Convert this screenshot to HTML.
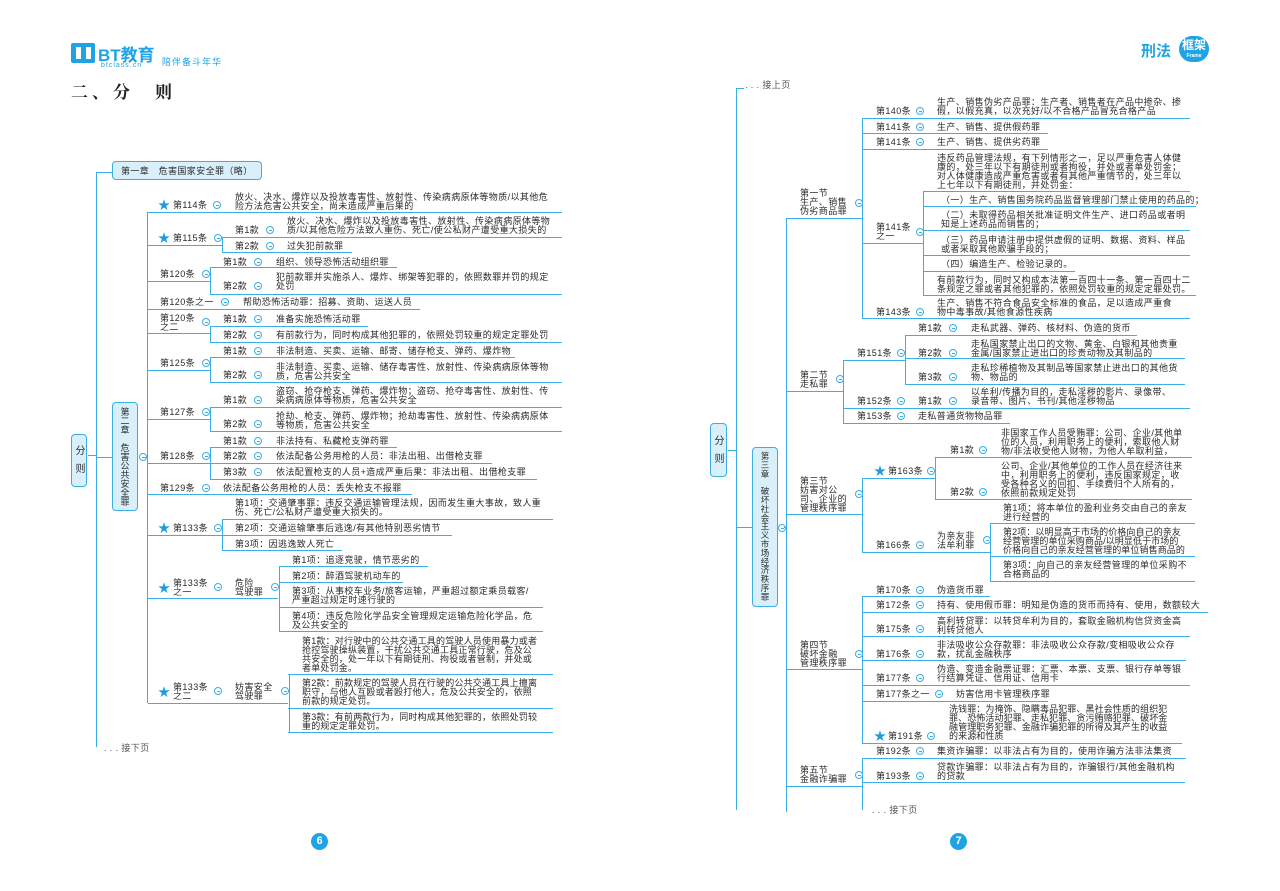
<!DOCTYPE html>
<html><head><meta charset="utf-8">
<style>
body{margin:0;width:1280px;height:891px;background:#fff;position:relative;overflow:hidden;font-family:"Liberation Sans","Noto Sans CJK SC",sans-serif;}
.t{position:absolute;font-size:9px;line-height:9px;color:#2a2a2a;white-space:nowrap;letter-spacing:0.4px;}
.u{position:absolute;height:0;border-top:1.4px solid #3aaee6;}
.v{position:absolute;width:0;border-left:1.4px solid #3aaee6;}
.c{position:absolute;width:6px;height:6px;border:1px solid #3aaee6;border-radius:50%;background:#fff;}
.c:after{content:"";position:absolute;left:1.5px;top:2.5px;width:3px;height:1px;background:#3aaee6;}
.s{position:absolute;color:#1f9be0;font-size:12px;line-height:12px;}
.box{position:absolute;background:#d9f0fb;border:1.3px solid #3aaee6;border-radius:4px;color:#2a2a2a;font-size:9px;}
.vt{writing-mode:vertical-rl;text-orientation:upright;letter-spacing:0px;line-height:26px;text-align:center;white-space:nowrap;}
.st{text-align:center;box-sizing:border-box;}
.pg{position:absolute;width:17px;height:17px;border-radius:50%;background:#1fa3e4;color:#fff;font-weight:bold;font-size:11px;line-height:17px;text-align:center;}
</style></head><body>

<!-- header left -->
<div style="position:absolute;left:71px;top:43px;width:24px;height:20px;background:#1fa3e4;border-radius:2px"></div>
<div style="position:absolute;left:76px;top:47px;width:5px;height:12px;background:#fff"></div>
<div style="position:absolute;left:86px;top:47px;width:5px;height:12px;background:#fff"></div>
<div style="position:absolute;left:98px;top:41px;font-size:17px;font-weight:bold;color:#1fa3e4;font-family:'Liberation Sans','Noto Sans CJK SC',sans-serif">BT教育</div>
<div style="position:absolute;left:101px;top:62px;font-size:7px;color:#1fa3e4;letter-spacing:1px">btclass.cn</div>
<div style="position:absolute;left:162px;top:55px;font-size:9px;color:#1fa3e4;letter-spacing:1px">陪伴备斗年华</div>
<div style="position:absolute;left:71px;top:78px;font-size:17px;font-weight:bold;color:#222;letter-spacing:4px;font-family:'Liberation Serif','Noto Serif CJK SC',serif">二、分　则</div>

<!-- header right -->
<div style="position:absolute;left:1141px;top:40px;font-size:15px;font-weight:bold;color:#1fa3e4">刑法</div>
<div style="position:absolute;left:1179px;top:36px;width:30px;height:26px;border-radius:13px;background:#1fa3e4;color:#fff;font-size:12px;font-weight:bold;text-align:center;line-height:18px">框架<div style="font-size:5px;line-height:5px">Frame</div></div>

<!-- ============ LEFT PAGE ============ -->
<div class="t" style="left:104px;top:744px;color:#555">. . .  接下页</div>
<div class="v" style="left:96px;top:172px;height:575px;border-radius:0"></div>
<div class="u" style="left:96px;top:172px;width:16px"></div>
<div class="u" style="left:88px;top:455px;width:8px"></div>
<div class="box vt" style="left:71px;top:434px;width:16px;height:53px;font-size:10px;line-height:16px;letter-spacing:8px;padding-top:4px;box-sizing:border-box">分则</div>
<div class="box" style="left:112px;top:161px;width:150px;height:19px;line-height:19px;padding-left:8px;box-sizing:border-box;letter-spacing:0.4px">第一章　危害国家安全罪（略）</div>
<div class="u" style="left:96px;top:457px;width:16px"></div>
<div class="box st" style="left:112px;top:402px;width:26px;height:109px;line-height:9px;font-size:9px;padding-top:5px">第<br>二<br>章<br>&nbsp;<br>危<br>害<br>公<br>共<br>安<br>全<br>罪</div>
<div class="c" style="left:139px;top:453px"></div>

<div class="v" style="left:147px;top:212px;height:491px"></div>
<div class="u" style="left:145px;top:457px;width:3px"></div>

<!-- 114 -->
<div class="s" style="left:158px;top:199px">★</div>
<div class="t" style="left:173px;top:201px">第114条</div><div class="c" style="left:213px;top:201px"></div>
<div class="t" style="left:235px;top:193px">放火、决水、爆炸以及投放毒害性、放射性、传染病病原体等物质/以其他危<br>险方法危害公共安全，尚未造成严重后果的</div>
<div class="u" style="left:148px;top:212px;width:414px"></div>
<!-- 115 -->
<div class="s" style="left:158px;top:232px">★</div>
<div class="t" style="left:173px;top:234px">第115条</div><div class="c" style="left:214px;top:234px"></div>
<div class="u" style="left:148px;top:245px;width:74px"></div>
<div class="v" style="left:222px;top:237px;height:15px"></div>
<div class="t" style="left:235px;top:226px">第1款</div><div class="c" style="left:266px;top:226px"></div>
<div class="t" style="left:287px;top:217px">放火、决水、爆炸以及投放毒害性、放射性、传染病病原体等物<br>质/以其他危险方法致人重伤、死亡/使公私财产遭受重大损失的</div>
<div class="u" style="left:222px;top:237px;width:340px"></div>
<div class="t" style="left:235px;top:242px">第2款</div><div class="c" style="left:266px;top:242px"></div>
<div class="t" style="left:287px;top:242px">过失犯前款罪</div>
<div class="u" style="left:222px;top:252px;width:130px"></div>
<!-- 120 -->
<div class="t" style="left:160px;top:270px">第120条</div><div class="c" style="left:202px;top:270px"></div>
<div class="u" style="left:148px;top:281px;width:62px"></div>
<div class="v" style="left:210px;top:267px;height:27px"></div>
<div class="t" style="left:223px;top:258px">第1款</div><div class="c" style="left:254px;top:258px"></div>
<div class="t" style="left:276px;top:258px">组织、领导恐怖活动组织罪</div>
<div class="u" style="left:210px;top:267px;width:187px"></div>
<div class="t" style="left:223px;top:282px">第2款</div><div class="c" style="left:254px;top:282px"></div>
<div class="t" style="left:276px;top:273px">犯前款罪并实施杀人、爆炸、绑架等犯罪的，依照数罪并罚的规定<br>处罚</div>
<div class="u" style="left:210px;top:294px;width:352px"></div>
<!-- 120-1 -->
<div class="t" style="left:160px;top:298px">第120条之一</div><div class="c" style="left:221px;top:298px"></div>
<div class="t" style="left:243px;top:298px">帮助恐怖活动罪：招募、资助、运送人员</div>
<div class="u" style="left:148px;top:309px;width:272px"></div>
<!-- 120-2 -->
<div class="t" style="left:160px;top:314px">第120条<br>之二</div><div class="c" style="left:202px;top:318px"></div>
<div class="u" style="left:148px;top:333px;width:62px"></div>
<div class="v" style="left:210px;top:326px;height:16px"></div>
<div class="t" style="left:223px;top:315px">第1款</div><div class="c" style="left:254px;top:315px"></div>
<div class="t" style="left:276px;top:315px">准备实施恐怖活动罪</div>
<div class="u" style="left:210px;top:326px;width:158px"></div>
<div class="t" style="left:223px;top:331px">第2款</div><div class="c" style="left:254px;top:331px"></div>
<div class="t" style="left:276px;top:331px">有前款行为，同时构成其他犯罪的，依照处罚较重的规定定罪处罚</div>
<div class="u" style="left:210px;top:342px;width:352px"></div>
<!-- 125 -->
<div class="t" style="left:160px;top:359px">第125条</div><div class="c" style="left:202px;top:359px"></div>
<div class="u" style="left:148px;top:370px;width:62px"></div>
<div class="v" style="left:210px;top:357px;height:25px"></div>
<div class="t" style="left:223px;top:347px">第1款</div><div class="c" style="left:254px;top:347px"></div>
<div class="t" style="left:276px;top:347px">非法制造、买卖、运输、邮寄、储存枪支、弹药、爆炸物</div>
<div class="u" style="left:210px;top:357px;width:305px"></div>
<div class="t" style="left:223px;top:371px">第2款</div><div class="c" style="left:254px;top:371px"></div>
<div class="t" style="left:276px;top:363px">非法制造、买卖、运输、储存毒害性、放射性、传染病病原体等物<br>质，危害公共安全</div>
<div class="u" style="left:210px;top:382px;width:352px"></div>
<!-- 127 -->
<div class="t" style="left:160px;top:408px">第127条</div><div class="c" style="left:202px;top:408px"></div>
<div class="u" style="left:148px;top:419px;width:62px"></div>
<div class="v" style="left:210px;top:407px;height:24px"></div>
<div class="t" style="left:223px;top:396px">第1款</div><div class="c" style="left:254px;top:396px"></div>
<div class="t" style="left:276px;top:387px">盗窃、抢夺枪支、弹药、爆炸物；盗窃、抢夺毒害性、放射性、传<br>染病病原体等物质，危害公共安全</div>
<div class="u" style="left:210px;top:407px;width:352px"></div>
<div class="t" style="left:223px;top:420px">第2款</div><div class="c" style="left:254px;top:420px"></div>
<div class="t" style="left:276px;top:412px">抢劫、枪支、弹药、爆炸物；抢劫毒害性、放射性、传染病病原体<br>等物质，危害公共安全</div>
<div class="u" style="left:210px;top:431px;width:352px"></div>
<!-- 128 -->
<div class="t" style="left:160px;top:452px">第128条</div><div class="c" style="left:202px;top:452px"></div>
<div class="u" style="left:148px;top:463px;width:62px"></div>
<div class="v" style="left:210px;top:447px;height:32px"></div>
<div class="t" style="left:223px;top:437px">第1款</div><div class="c" style="left:254px;top:437px"></div>
<div class="t" style="left:276px;top:437px">非法持有、私藏枪支弹药罪</div>
<div class="u" style="left:210px;top:447px;width:187px"></div>
<div class="t" style="left:223px;top:452px">第2款</div><div class="c" style="left:254px;top:452px"></div>
<div class="t" style="left:276px;top:452px">依法配备公务用枪的人员：非法出租、出借枪支罪</div>
<div class="u" style="left:210px;top:463px;width:282px"></div>
<div class="t" style="left:223px;top:468px">第3款</div><div class="c" style="left:254px;top:468px"></div>
<div class="t" style="left:276px;top:468px">依法配置枪支的人员+造成严重后果：非法出租、出借枪支罪</div>
<div class="u" style="left:210px;top:479px;width:327px"></div>
<!-- 129 -->
<div class="t" style="left:160px;top:484px">第129条</div><div class="c" style="left:202px;top:484px"></div>
<div class="t" style="left:223px;top:484px">依法配备公务用枪的人员：丢失枪支不报罪</div>
<div class="u" style="left:148px;top:494px;width:264px"></div>
<!-- 133 -->
<div class="s" style="left:158px;top:522px">★</div>
<div class="t" style="left:173px;top:524px">第133条</div><div class="c" style="left:214px;top:524px"></div>
<div class="u" style="left:148px;top:535px;width:74px"></div>
<div class="v" style="left:222px;top:519px;height:31px"></div>
<div class="t" style="left:235px;top:499px">第1项：交通肇事罪：违反交通运输管理法规，因而发生重大事故，致人重<br>伤、死亡/公私财产遭受重大损失的。</div>
<div class="u" style="left:222px;top:519px;width:331px"></div>
<div class="t" style="left:235px;top:524px">第2项：交通运输肇事后逃逸/有其他特别恶劣情节</div>
<div class="u" style="left:222px;top:535px;width:230px"></div>
<div class="t" style="left:235px;top:540px">第3项：因逃逸致人死亡</div>
<div class="u" style="left:222px;top:550px;width:120px"></div>
<!-- 133-1 -->
<div class="s" style="left:158px;top:582px">★</div>
<div class="t" style="left:173px;top:579px">第133条<br>之一</div><div class="c" style="left:214px;top:583px"></div>
<div class="t" style="left:235px;top:579px">危险<br>驾驶罪</div><div class="c" style="left:271px;top:583px"></div>
<div class="u" style="left:148px;top:598px;width:130px"></div>
<div class="v" style="left:279px;top:566px;height:65px"></div>
<div class="t" style="left:292px;top:556px">第1项：追逐竞驶，情节恶劣的</div>
<div class="u" style="left:279px;top:566px;width:149px"></div>
<div class="t" style="left:292px;top:572px">第2项：醉酒驾驶机动车的</div>
<div class="u" style="left:279px;top:582px;width:124px"></div>
<div class="t" style="left:292px;top:587px">第3项：从事校车业务/旅客运输，严重超过额定乘员载客/<br>严重超过规定时速行驶的</div>
<div class="u" style="left:279px;top:607px;width:264px"></div>
<div class="t" style="left:292px;top:612px">第4项：违反危险化学品安全管理规定运输危险化学品，危<br>及公共安全的</div>
<div class="u" style="left:279px;top:631px;width:264px"></div>
<!-- 133-2 -->
<div class="s" style="left:158px;top:686px">★</div>
<div class="t" style="left:173px;top:683px">第133条<br>之二</div><div class="c" style="left:214px;top:687px"></div>
<div class="t" style="left:235px;top:683px">妨害安全<br>驾驶罪</div><div class="c" style="left:281px;top:687px"></div>
<div class="u" style="left:148px;top:703px;width:140px"></div>
<div class="v" style="left:289px;top:674px;height:58px"></div>
<div class="t" style="left:302px;top:637px;letter-spacing:0.2px">第1款：对行驶中的公共交通工具的驾驶人员使用暴力或者<br>抢控驾驶操纵装置，干扰公共交通工具正常行驶，危及公<br>共安全的，处一年以下有期徒刑、拘役或者管制，并处或<br>者单处罚金。</div>
<div class="u" style="left:288px;top:674px;width:265px"></div>
<div class="t" style="left:302px;top:679px;letter-spacing:0.2px">第2款：前款规定的驾驶人员在行驶的公共交通工具上擅离<br>职守，与他人互殴或者殴打他人，危及公共安全的，依照<br>前款的规定处罚。</div>
<div class="u" style="left:288px;top:708px;width:265px"></div>
<div class="t" style="left:302px;top:713px;letter-spacing:0.2px">第3款：有前两款行为，同时构成其他犯罪的，依照处罚较<br>重的规定定罪处罚。</div>
<div class="u" style="left:288px;top:732px;width:265px"></div>

<div class="pg" style="left:311px;top:833px">6</div>

<!-- ============ RIGHT PAGE ============ -->
<div class="t" style="left:745px;top:81px;color:#555">. . .  接上页</div>
<div class="v" style="left:736px;top:88px;height:722px"></div>
<div class="u" style="left:736px;top:88px;width:8px"></div>
<div class="box vt" style="left:710px;top:423px;width:17px;height:54px;font-size:10px;line-height:17px;letter-spacing:8px;padding-top:5px;box-sizing:border-box">分则</div>
<div class="u" style="left:728px;top:450px;width:8px"></div>
<div class="u" style="left:736px;top:527px;width:16px"></div>
<div class="box st" style="left:752px;top:447px;width:26px;height:160px;line-height:8.8px;font-size:8.5px;padding-top:4px">第<br>三<br>章<br>&nbsp;<br>破<br>坏<br>社<br>会<br>主<br>义<br>市<br>场<br>经<br>济<br>秩<br>序<br>罪</div>
<div class="c" style="left:778px;top:524px"></div>
<div class="v" style="left:786px;top:218px;height:594px"></div>
<div class="u" style="left:784px;top:527px;width:3px"></div>

<!-- section 1 -->
<div class="t" style="left:800px;top:189px">第一节<br>生产、销售<br>伪劣商品罪</div><div class="c" style="left:855px;top:199px"></div>
<div class="u" style="left:786px;top:218px;width:76px"></div>
<div class="v" style="left:862px;top:118px;height:200px"></div>
<div class="t" style="left:876px;top:107px">第140条</div><div class="c" style="left:916px;top:107px"></div>
<div class="t" style="left:937px;top:98px">生产、销售伪劣产品罪：生产者、销售者在产品中掺杂、掺<br>假，以假充真，以次充好/以不合格产品冒充合格产品</div>
<div class="u" style="left:862px;top:118px;width:328px"></div>
<div class="t" style="left:876px;top:123px">第141条</div><div class="c" style="left:916px;top:123px"></div>
<div class="t" style="left:937px;top:123px">生产、销售、提供假药罪</div>
<div class="u" style="left:862px;top:133px;width:186px"></div>
<div class="t" style="left:876px;top:138px">第141条</div><div class="c" style="left:916px;top:138px"></div>
<div class="t" style="left:937px;top:138px">生产、销售、提供劣药罪</div>
<div class="u" style="left:862px;top:149px;width:186px"></div>
<div class="t" style="left:876px;top:223px">第141条<br>之一</div><div class="c" style="left:916px;top:228px"></div>
<div class="u" style="left:862px;top:243px;width:61px"></div>
<div class="v" style="left:923px;top:191px;height:104px"></div>
<div class="t" style="left:937px;top:154px">违反药品管理法规，有下列情形之一，足以严重危害人体健<br>康的，处三年以下有期徒刑或者拘役，并处或者单处罚金；<br>对人体健康造成严重危害或者有其他严重情节的，处三年以<br>上七年以下有期徒刑，并处罚金：</div>
<div class="u" style="left:923px;top:191px;width:267px"></div>
<div class="t" style="left:941px;top:196px">（一）生产、销售国务院药品监督管理部门禁止使用的药品的；</div>
<div class="u" style="left:923px;top:206px;width:273px"></div>
<div class="t" style="left:941px;top:211px">（二）未取得药品相关批准证明文件生产、进口药品或者明<br>知是上述药品而销售的；</div>
<div class="u" style="left:923px;top:230px;width:267px"></div>
<div class="t" style="left:941px;top:236px">（三）药品申请注册中提供虚假的证明、数据、资料、样品<br>或者采取其他欺骗手段的；</div>
<div class="u" style="left:923px;top:255px;width:267px"></div>
<div class="t" style="left:941px;top:260px">（四）编造生产、检验记录的。</div>
<div class="u" style="left:923px;top:271px;width:152px"></div>
<div class="t" style="left:937px;top:276px">有前款行为，同时又构成本法第一百四十一条、第一百四十二<br>条规定之罪或者其他犯罪的，依照处罚较重的规定定罪处罚。</div>
<div class="u" style="left:923px;top:295px;width:273px"></div>
<div class="t" style="left:876px;top:308px">第143条</div><div class="c" style="left:916px;top:308px"></div>
<div class="t" style="left:937px;top:299px">生产、销售不符合食品安全标准的食品，足以造成严重食<br>物中毒事故/其他食源性疾病</div>
<div class="u" style="left:862px;top:318px;width:328px"></div>

<!-- section 2 -->
<div class="t" style="left:800px;top:371px">第二节<br>走私罪</div><div class="c" style="left:836px;top:375px"></div>
<div class="u" style="left:786px;top:391px;width:57px"></div>
<div class="v" style="left:843px;top:360px;height:63px"></div>
<div class="t" style="left:857px;top:349px">第151条</div><div class="c" style="left:897px;top:349px"></div>
<div class="u" style="left:843px;top:360px;width:62px"></div>
<div class="v" style="left:905px;top:335px;height:49px"></div>
<div class="t" style="left:918px;top:324px">第1款</div><div class="c" style="left:949px;top:324px"></div>
<div class="t" style="left:971px;top:324px">走私武器、弹药、核材料、伪造的货币</div>
<div class="u" style="left:905px;top:335px;width:232px"></div>
<div class="t" style="left:918px;top:349px">第2款</div><div class="c" style="left:949px;top:349px"></div>
<div class="t" style="left:971px;top:340px">走私国家禁止出口的文物、黄金、白银和其他贵重<br>金属/国家禁止进出口的珍贵动物及其制品的</div>
<div class="u" style="left:905px;top:358px;width:280px"></div>
<div class="t" style="left:918px;top:373px">第3款</div><div class="c" style="left:949px;top:373px"></div>
<div class="t" style="left:971px;top:364px">走私珍稀植物及其制品等国家禁止进出口的其他货<br>物、物品的</div>
<div class="u" style="left:905px;top:384px;width:280px"></div>
<div class="t" style="left:857px;top:397px">第152条</div><div class="c" style="left:897px;top:397px"></div>
<div class="t" style="left:918px;top:397px">第1款</div><div class="c" style="left:949px;top:397px"></div>
<div class="t" style="left:971px;top:388px">以牟利/传播为目的，走私淫秽的影片、录像带、<br>录音带、图片、书刊/其他淫秽物品</div>
<div class="u" style="left:843px;top:408px;width:347px"></div>
<div class="t" style="left:857px;top:412px">第153条</div><div class="c" style="left:897px;top:412px"></div>
<div class="t" style="left:918px;top:412px">走私普通货物物品罪</div>
<div class="u" style="left:843px;top:423px;width:167px"></div>

<!-- section 3 -->
<div class="t" style="left:800px;top:477px">第三节<br>妨害对公<br>司、企业的<br>管理秩序罪</div><div class="c" style="left:855px;top:490px"></div>
<div class="u" style="left:786px;top:514px;width:76px"></div>
<div class="v" style="left:862px;top:478px;height:74px"></div>
<div class="s" style="left:874px;top:465px">★</div>
<div class="t" style="left:888px;top:467px">第163条</div><div class="c" style="left:927px;top:467px"></div>
<div class="u" style="left:862px;top:478px;width:73px"></div>
<div class="v" style="left:935px;top:457px;height:42px"></div>
<div class="t" style="left:950px;top:446px">第1款</div><div class="c" style="left:979px;top:446px"></div>
<div class="t" style="left:1001px;top:429px">非国家工作人员受贿罪：公司、企业/其他单<br>位的人员，利用职务上的便利，索取他人财<br>物/非法收受他人财物，为他人牟取利益，</div>
<div class="u" style="left:935px;top:457px;width:257px"></div>
<div class="t" style="left:950px;top:488px">第2款</div><div class="c" style="left:979px;top:488px"></div>
<div class="t" style="left:1001px;top:462px">公司、企业/其他单位的工作人员在经济往来<br>中，利用职务上的便利，违反国家规定，收<br>受各种名义的回扣、手续费归个人所有的，<br>依照前款规定处罚</div>
<div class="u" style="left:935px;top:499px;width:257px"></div>
<div class="t" style="left:876px;top:541px">第166条</div><div class="c" style="left:916px;top:541px"></div>
<div class="t" style="left:937px;top:532px">为亲友非<br>法牟利罪</div><div class="c" style="left:983px;top:536px"></div>
<div class="u" style="left:862px;top:552px;width:128px"></div>
<div class="v" style="left:990px;top:523px;height:58px"></div>
<div class="t" style="left:1003px;top:504px">第1项：将本单位的盈利业务交由自己的亲友<br>进行经营的</div>
<div class="u" style="left:990px;top:523px;width:205px"></div>
<div class="t" style="left:1003px;top:528px;letter-spacing:0.1px">第2项：以明显高于市场的价格向自己的亲友<br>经营管理的单位采购商品/以明显低于市场的<br>价格向自己的亲友经营管理的单位销售商品的</div>
<div class="u" style="left:990px;top:556px;width:205px"></div>
<div class="t" style="left:1003px;top:561px">第3项：向自己的亲友经营管理的单位采购不<br>合格商品的</div>
<div class="u" style="left:990px;top:581px;width:205px"></div>

<!-- section 4 -->
<div class="t" style="left:800px;top:641px">第四节<br>破坏金融<br>管理秩序罪</div><div class="c" style="left:855px;top:650px"></div>
<div class="u" style="left:786px;top:669px;width:76px"></div>
<div class="v" style="left:862px;top:596px;height:147px"></div>
<div class="t" style="left:876px;top:586px">第170条</div><div class="c" style="left:916px;top:586px"></div>
<div class="t" style="left:937px;top:586px">伪造货币罪</div>
<div class="u" style="left:862px;top:596px;width:128px"></div>
<div class="t" style="left:876px;top:601px">第172条</div><div class="c" style="left:916px;top:601px"></div>
<div class="t" style="left:937px;top:601px">持有、使用假币罪：明知是伪造的货币而持有、使用，数额较大</div>
<div class="u" style="left:862px;top:612px;width:346px"></div>
<div class="t" style="left:876px;top:625px">第175条</div><div class="c" style="left:916px;top:625px"></div>
<div class="t" style="left:937px;top:617px">高利转贷罪：以转贷牟利为目的，套取金融机构信贷资金高<br>利转贷他人</div>
<div class="u" style="left:862px;top:636px;width:328px"></div>
<div class="t" style="left:876px;top:650px">第176条</div><div class="c" style="left:916px;top:650px"></div>
<div class="t" style="left:937px;top:641px">非法吸收公众存款罪：非法吸收公众存款/变相吸收公众存<br>款，扰乱金融秩序</div>
<div class="u" style="left:862px;top:660px;width:324px"></div>
<div class="t" style="left:876px;top:674px">第177条</div><div class="c" style="left:916px;top:674px"></div>
<div class="t" style="left:937px;top:665px">伪造、变造金融票证罪：汇票、本票、支票、银行存单等银<br>行结算凭证、信用证、信用卡</div>
<div class="u" style="left:862px;top:685px;width:328px"></div>
<div class="t" style="left:876px;top:690px">第177条之一</div><div class="c" style="left:935px;top:690px"></div>
<div class="t" style="left:956px;top:690px">妨害信用卡管理秩序罪</div>
<div class="u" style="left:862px;top:701px;width:186px"></div>
<div class="s" style="left:874px;top:730px">★</div>
<div class="t" style="left:888px;top:732px">第191条</div><div class="c" style="left:927px;top:732px"></div>
<div class="t" style="left:949px;top:705px;letter-spacing:0.1px">洗钱罪：为掩饰、隐瞒毒品犯罪、黑社会性质的组织犯<br>罪、恐怖活动犯罪、走私犯罪、贪污贿赂犯罪、破坏金<br>融管理职务犯罪、金融诈骗犯罪的所得及其产生的收益<br>的来源和性质</div>
<div class="u" style="left:862px;top:743px;width:320px"></div>

<!-- section 5 -->
<div class="t" style="left:800px;top:766px">第五节<br>金融诈骗罪</div><div class="c" style="left:855px;top:771px"></div>
<div class="u" style="left:786px;top:786px;width:76px"></div>
<div class="v" style="left:862px;top:758px;height:52px"></div>
<div class="t" style="left:876px;top:747px">第192条</div><div class="c" style="left:916px;top:747px"></div>
<div class="t" style="left:937px;top:747px">集资诈骗罪：以非法占有为目的，使用诈骗方法非法集资</div>
<div class="u" style="left:862px;top:758px;width:324px"></div>
<div class="t" style="left:876px;top:772px">第193条</div><div class="c" style="left:916px;top:772px"></div>
<div class="t" style="left:937px;top:763px">贷款诈骗罪：以非法占有为目的，诈骗银行/其他金融机构<br>的贷款</div>
<div class="u" style="left:862px;top:782px;width:323px"></div>
<div class="t" style="left:872px;top:806px;color:#555">. . .  接下页</div>

<div class="pg" style="left:950px;top:833px">7</div>
</body></html>
